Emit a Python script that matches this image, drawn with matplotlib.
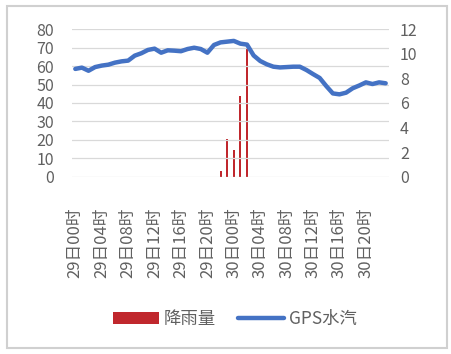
import matplotlib
matplotlib.use('Agg')
import matplotlib.pyplot as plt
from matplotlib.patches import Rectangle
import numpy as np

plt.rcParams['font.family'] = ['Noto Sans CJK SC', 'DejaVu Sans']

# hourly categories 29日00时 .. 30日23时
hours = ["{}日{:02d}时".format(d, h) for d in (29, 30) for h in range(24)]

gps_pwv = [58.5, 59.2, 57.5, 59.5, 60.3, 60.8, 61.9, 62.6, 63.0, 65.7, 67.0, 68.8,
           69.5, 67.3, 68.6, 68.4, 68.1, 69.3, 70.0, 69.3, 67.3, 71.5, 72.9, 73.3,
           73.7, 72.2, 71.7, 65.8, 62.8, 61.0, 59.7, 59.3, 59.5, 59.7, 59.7, 57.9,
           55.7, 53.6, 49.2, 45.2, 44.7, 45.6, 48.0, 49.5, 51.2, 50.3, 51.2, 50.7]

rain = [0] * 22 + [0.5, 3.1, 2.2, 6.6, 10.5] + [0] * 21

x = np.arange(len(hours))
grey = '#606060'

fig = plt.figure(figsize=(4.52, 3.54), dpi=100)
ax = fig.add_axes([72 / 452, 1 - 176.7 / 354, 317 / 452, 147.4 / 354])
ax2 = ax.twinx()

ax2.bar(x, rain, width=0.3, color='#C0272D', label='降雨量')
ax.plot(x, gps_pwv, color='#4472C4', lw=3.2, label='GPS水汽', solid_capstyle='round')

# line above the bars
ax.set_zorder(ax2.get_zorder() + 1)
ax.patch.set_visible(False)

ax.set_ylim(0, 80)
ax.set_yticks(np.arange(0, 81, 10))
ax2.set_ylim(0, 12)
ax2.set_yticks(np.arange(0, 13, 2))
ax.set_xlim(-0.5, len(hours) - 0.5)
ax.set_xticks(x[::4])
ax.set_xticklabels(hours[::4], rotation=90)

ax.grid(axis='y', color='#D9D9D9', lw=0.9)
for a in (ax, ax2):
    for s in a.spines.values():
        s.set_visible(False)
    a.tick_params(length=0, colors=grey)
ax.tick_params(axis='y', labelsize=11.5, pad=13)
ax2.tick_params(axis='y', labelsize=11.5, pad=8)
ax.tick_params(axis='x', labelsize=12, pad=22)

h1, l1 = ax2.get_legend_handles_labels()
h2, l2 = ax.get_legend_handles_labels()
fig.legend(h1 + h2, l1 + l2, loc='center', bbox_to_anchor=(235 / 452, 1 - 319 / 354),
           ncol=2, frameon=False, fontsize=12.5, handlelength=2.6, columnspacing=1.3,
           handletextpad=0.3, labelcolor=grey)

fig.patches.append(Rectangle((7 / 452, 6 / 354), 440 / 452, 342 / 354,
                             transform=fig.transFigure, fill=False,
                             edgecolor='#D0D0D0', lw=1.5))

plt.savefig('out.png', dpi=100)
plt.close()
